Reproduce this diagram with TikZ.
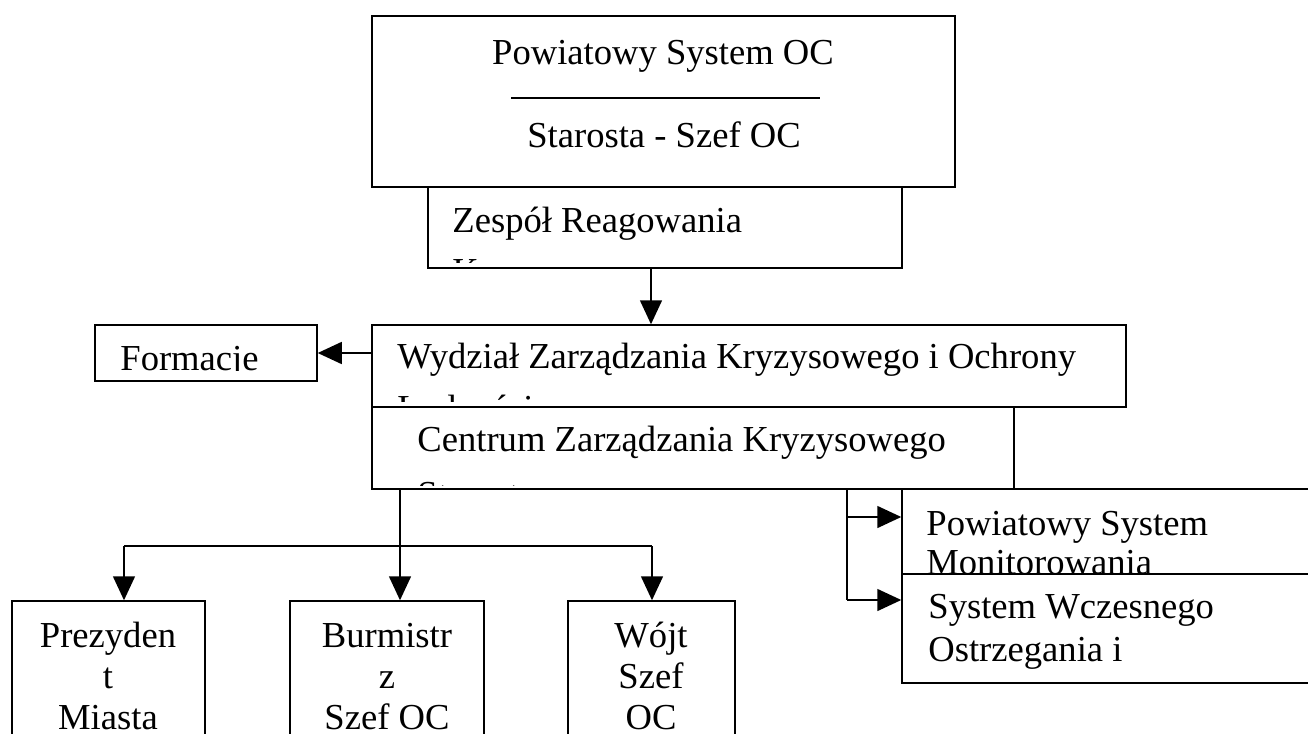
\documentclass[tikz,border=0pt]{standalone}
\usepackage{fontspec}
\setmainfont{Liberation Serif}
\usetikzlibrary{arrows.meta,fit}
\begin{document}
\begin{tikzpicture}[x=0.5pt,y=-0.5pt,
  boxst/.style={draw, fill=white, inner sep=0pt, line width=0.75pt},
  txt/.style={inner sep=0pt, font=\fontsize{18.3pt}{20pt}\selectfont},
  lft/.style={txt, anchor=base west},
  mid/.style={txt, anchor=base},
  link/.style={line width=0.75pt},
  arr/.style={link, -{Triangle[length=12pt,width=11pt]}}]
\useasboundingbox (0,0) rectangle (1308,734);
\clip (0,0) rectangle (1308,734);
\fill[white] (0,0) rectangle (1308,734);

% county civil-defence head
\node[boxst, fit={(372,16) (955,187)}] (top) {};
\node[mid] (topa) at (663,64) {Powiatowy System OC};
\draw[link] (511,98) coordinate (sepa) -- (820,98) coordinate (sepb);
\node[mid] (topb) at (664,147) {Starosta - Szef OC};

% response team
\node[boxst, fit={(428,187) (902,268)}] (zesp) {};
\node[lft] (zespa) at (452,232) {Zespół Reagowania};
\begin{scope}
  \clip (428,187) rectangle (902,262);
  \node[lft] (zespb) at (452,283) {Kryzysowego};
\end{scope}

% crisis management department
\node[boxst, fit={(372,325) (1126,407)}] (wyd) {};
\node[lft] (wyda) at (397,368) {Wydział Zarządzania Kryzysowego i Ochrony};
\begin{scope}
  \clip (372,325) rectangle (1126,401);
  \node[lft] (wydb) at (397,420) {Ludności};
\end{scope}

% crisis management centre
\node[boxst, fit={(372,407) (1014,489)}] (cent) {};
\node[lft] (centa) at (417,451) {Centrum Zarządzania Kryzysowego};
\begin{scope}
  \clip (372,407) rectangle (1014,485);
  \node[lft] (centb) at (417,506) {Starostwa};
\end{scope}

% formations
\node[boxst, fit={(95,325) (317,381)}] (form) {};
\begin{scope}
  \clip (95,325) rectangle (317,370);
  \node[lft] (forma) at (120,370) {Formacje};
\end{scope}

% monitoring and warning systems
\node[boxst, fit={(902,489) (1330,574)}] (mon) {};
\node[lft] (mona) at (926,535) {Powiatowy System};
\node[lft] (monb) at (926,574) {Monitorowania};
\node[boxst, fit={(902,574) (1330,683)}] (wcz) {};
\node[lft] (wcza) at (928,618) {System Wczesnego};
\node[lft] (wczb) at (928,661) {Ostrzegania i};

% municipal heads
\node[boxst, fit={(12,601) (205,760)}] (prez) {};
\node[mid] (preza) at (108,647) {Prezyden};
\node[mid] (prezb) at (108,688) {t};
\node[mid] (prezc) at (108,729) {Miasta};

\node[boxst, fit={(290,601) (484,760)}] (burm) {};
\node[mid] (burma) at (387,647) {Burmistr};
\node[mid] (burmb) at (387,688) {z};
\node[mid] (burmc) at (387,729) {Szef OC};

\node[boxst, fit={(568,601) (735,760)}] (wojt) {};
\node[mid] (wojta) at (651,647) {Wójt};
\node[mid] (wojtb) at (651,688) {Szef};
\node[mid] (wojtc) at (651,729) {OC};

% connectors
\coordinate (xa) at (651,0);
\draw[arr] (zesp.south -| xa) -- (wyd.north -| xa);
\draw[arr] (wyd.west |- form.east) -- (form.east);

\coordinate (xb) at (400,0);
\coordinate (jl) at (124,546);
\coordinate (jr) at (652,546);
\draw[arr] (cent.south -| xb) -- (burm.north -| xb);
\draw[link] (jl) -- (jr);
\draw[arr] (jl) -- (prez.north -| jl);
\draw[arr] (jr) -- (wojt.north -| jr);

\coordinate (xc) at (847,0);
\coordinate (ma) at (847,517);
\coordinate (mb) at (847,600);
\draw[link] (cent.south -| xc) -- (mb);
\draw[arr] (ma) -- (mon.west |- ma);
\draw[arr] (mb) -- (wcz.west |- mb);
\end{tikzpicture}
\end{document}
